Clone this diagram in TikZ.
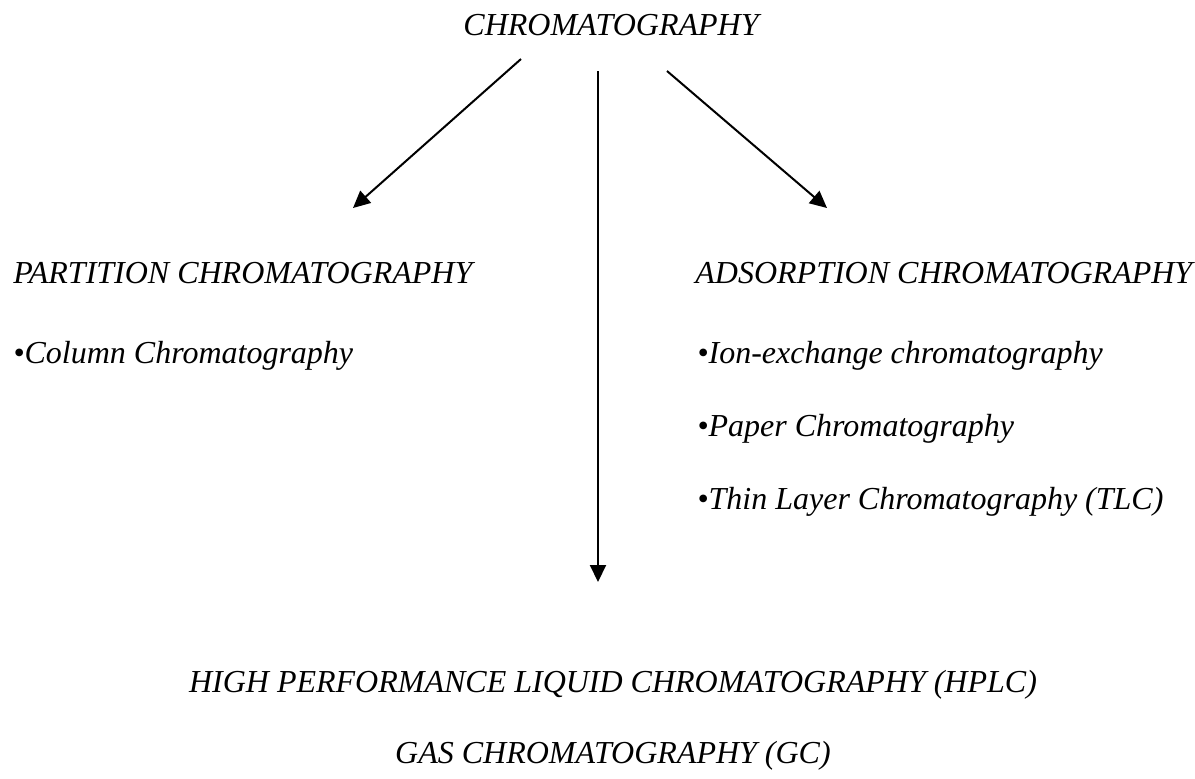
\documentclass[tikz,border=0pt]{standalone}
\usepackage{fontspec}
\setmainfont{Liberation Serif}
\usepackage{tikz}
\usetikzlibrary{arrows.meta,positioning}

\begin{document}
\begin{tikzpicture}[
  x=0.5pt, y=-0.5pt,
  label/.style={inner sep=0pt, font=\fontsize{16}{19}\selectfont\itshape},
  arrow/.style={-{Triangle[length=8.5pt, width=8pt]}, line width=1pt}
]
\useasboundingbox (0,0) rectangle (1195,778);

% top
\node[label, anchor=base] (chrom) at (611,35) {CHROMATOGRAPHY};

% left branch
\node[label, anchor=base west] (part) at (13,283) {PARTITION CHROMATOGRAPHY};
\node[label, anchor=base west] (column) at (13,363) {•Column Chromatography};

% right branch
\node[label, anchor=base west] (adsorp) at (695,283) {ADSORPTION CHROMATOGRAPHY};
\node[label, anchor=base west] (ion) at (697,363) {•Ion-exchange chromatography};
\node[label, anchor=base west] (paper) at (697,436) {•Paper Chromatography};
\node[label, anchor=base west] (tlc) at (697,509) {•Thin Layer Chromatography (TLC)};

% bottom
\node[label, anchor=base] (hplc) at (613,692) {HIGH PERFORMANCE LIQUID CHROMATOGRAPHY (HPLC)};
\node[label, anchor=base] (gas) at (613,763) {GAS CHROMATOGRAPHY (GC)};

% arrow ends
\coordinate (l0) at (521,59);
\coordinate (l1) at (353,208);
\coordinate (m0) at (598,71);
\coordinate (m1) at (598,582);
\coordinate (r0) at (667,71);
\coordinate (r1) at (827,208);

\draw[arrow] (l0) -- (l1);
\draw[arrow] (m0) -- (m1);
\draw[arrow] (r0) -- (r1);
\end{tikzpicture}
\end{document}
